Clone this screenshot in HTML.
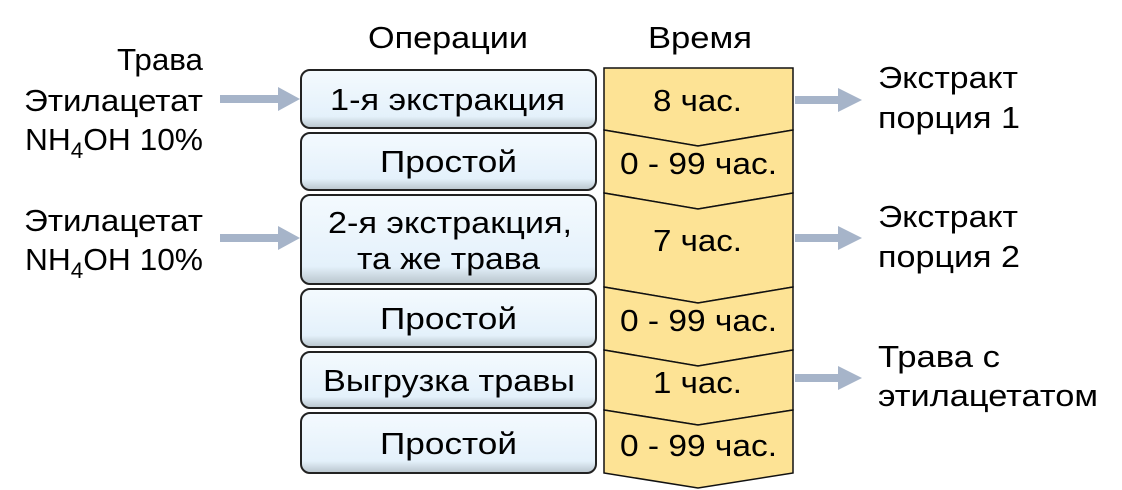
<!DOCTYPE html>
<html><head><meta charset="utf-8"><style>
html,body{margin:0;padding:0;background:#fff;}
svg{display:block;}
text{font-family:"Liberation Sans",sans-serif;font-size:31px;fill:#000;}
</style></head><body>
<svg width="1122" height="490" viewBox="0 0 1122 490" xmlns="http://www.w3.org/2000/svg">
<defs>
<linearGradient id="bg" x1="0" y1="0" x2="0" y2="1">
<stop offset="0" stop-color="#f4fafe"/><stop offset="0.8" stop-color="#e4f1fb"/><stop offset="1" stop-color="#b8c4cc"/>
</linearGradient>
</defs>
<text x="368" y="48" textLength="160" lengthAdjust="spacingAndGlyphs">Операции</text>
<text x="648" y="48" textLength="104" lengthAdjust="spacingAndGlyphs">Время</text>
<text x="117" y="70" textLength="86" lengthAdjust="spacingAndGlyphs">Трава</text>
<text x="24" y="111" textLength="179" lengthAdjust="spacingAndGlyphs">Этилацетат</text>
<text x="25" y="150" textLength="178" lengthAdjust="spacingAndGlyphs">NH<tspan font-size="22" dy="8">4</tspan><tspan dy="-8">OH 10%</tspan></text>
<text x="24" y="231" textLength="179" lengthAdjust="spacingAndGlyphs">Этилацетат</text>
<text x="25" y="270" textLength="178" lengthAdjust="spacingAndGlyphs">NH<tspan font-size="22" dy="8">4</tspan><tspan dy="-8">OH 10%</tspan></text>
<g fill="#a6b4c9">
<rect x="220" y="95" width="60" height="8"/><polygon points="278,87 300,99 278,111"/>
<rect x="220" y="234" width="60" height="8"/><polygon points="278,226 300,238 278,250"/>
<rect x="795" y="96" width="45" height="8"/><polygon points="838,88 862,100 838,112"/>
<rect x="795" y="234" width="45" height="8"/><polygon points="838,226 862,238 838,250"/>
<rect x="795" y="374" width="45" height="8"/><polygon points="838,366 862,378 838,390"/>
</g>
<g fill="url(#bg)" stroke="#222" stroke-width="2">
<rect x="301" y="70" width="295" height="58" rx="9"/>
<rect x="301" y="133" width="295" height="57" rx="9"/>
<rect x="301" y="195" width="295" height="89" rx="9"/>
<rect x="301" y="289" width="295" height="58" rx="9"/>
<rect x="301" y="352" width="295" height="56" rx="9"/>
<rect x="301" y="413" width="295" height="60" rx="9"/>
</g>
<text x="330" y="110" textLength="235" lengthAdjust="spacingAndGlyphs">1-я экстракция</text>
<text x="380" y="172" textLength="137" lengthAdjust="spacingAndGlyphs">Простой</text>
<text x="328" y="233" textLength="244" lengthAdjust="spacingAndGlyphs">2-я экстракция,</text>
<text x="357" y="269" textLength="183" lengthAdjust="spacingAndGlyphs">та же трава</text>
<text x="380" y="329" textLength="137" lengthAdjust="spacingAndGlyphs">Простой</text>
<text x="323" y="391" textLength="252" lengthAdjust="spacingAndGlyphs">Выгрузка травы</text>
<text x="380" y="454" textLength="137" lengthAdjust="spacingAndGlyphs">Простой</text>
<g fill="#fde395" stroke="#111" stroke-width="1.5">
<polygon points="604,68 793,68 793,130 698,146 604,130"/>
<polygon points="604,130 698,146 793,130 793,193 698,209 604,193"/>
<polygon points="604,193 698,209 793,193 793,287 698,303 604,287"/>
<polygon points="604,287 698,303 793,287 793,350 698,366 604,350"/>
<polygon points="604,350 698,366 793,350 793,410 698,425 604,410"/>
<polygon points="604,410 698,425 793,410 793,473 698,488 604,473"/>
</g>
<text x="653" y="111" textLength="89" lengthAdjust="spacingAndGlyphs">8 час.</text>
<text x="620" y="174" textLength="157" lengthAdjust="spacingAndGlyphs">0 - 99 час.</text>
<text x="653" y="251" textLength="89" lengthAdjust="spacingAndGlyphs">7 час.</text>
<text x="620" y="331" textLength="157" lengthAdjust="spacingAndGlyphs">0 - 99 час.</text>
<text x="653" y="393" textLength="89" lengthAdjust="spacingAndGlyphs">1 час.</text>
<text x="620" y="456" textLength="157" lengthAdjust="spacingAndGlyphs">0 - 99 час.</text>
<text x="878" y="88" textLength="140" lengthAdjust="spacingAndGlyphs">Экстракт</text>
<text x="878" y="128" textLength="142" lengthAdjust="spacingAndGlyphs">порция 1</text>
<text x="878" y="227" textLength="140" lengthAdjust="spacingAndGlyphs">Экстракт</text>
<text x="878" y="267" textLength="142" lengthAdjust="spacingAndGlyphs">порция 2</text>
<text x="878" y="367" textLength="122" lengthAdjust="spacingAndGlyphs">Трава с</text>
<text x="878" y="406" textLength="220" lengthAdjust="spacingAndGlyphs">этилацетатом</text>
</svg>
</body></html>
